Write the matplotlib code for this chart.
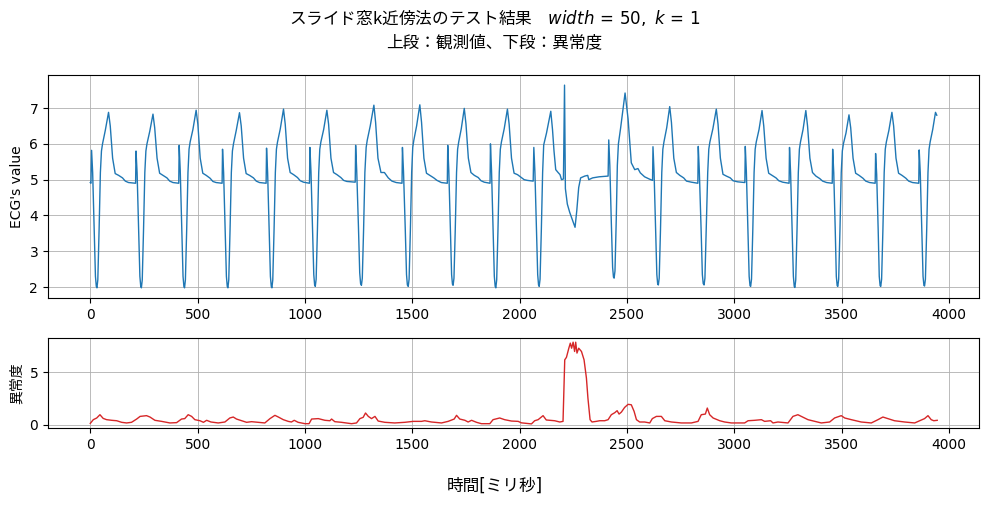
import matplotlib
matplotlib.use("Agg")
import matplotlib.pyplot as plt

plt.rcParams['font.family'] = ['DejaVu Sans', 'Noto Sans CJK JP']
plt.rcParams['axes.unicode_minus'] = False

ecg_time = [
    0, 3,
    6, 11, 18, 24, 28, 31, 35, 41, 47, 52, 57, 70, 85, 93, 104, 116, 132, 150, 163, 178, 211,
    213, 218, 225, 231, 235, 238, 242, 248, 254, 259, 264, 277, 292, 300, 311, 323, 339, 357, 370, 385, 412,
    414, 419, 426, 432, 436, 439, 443, 449, 455, 460, 465, 478, 493, 501, 512, 524, 540, 558, 571, 586, 614,
    616, 621, 628, 634, 638, 641, 645, 651, 657, 662, 667, 680, 695, 703, 714, 726, 742, 760, 773, 788, 819,
    821, 826, 833, 839, 843, 846, 850, 856, 862, 867, 872, 885, 900, 908, 919, 931, 947, 965, 978, 993, 1021,
    1023, 1028, 1035, 1041, 1045, 1048, 1052, 1058, 1064, 1069, 1074, 1087, 1102, 1110, 1121, 1133, 1149, 1167, 1180, 1195, 1234,
    1236, 1241, 1249, 1255, 1259, 1263, 1267, 1273, 1279, 1285, 1290, 1304, 1321, 1329, 1340, 1354, 1370, 1388, 1405, 1425, 1452,
    1454, 1459, 1467, 1473, 1477, 1481, 1485, 1491, 1497, 1502, 1507, 1520, 1535, 1543, 1554, 1566, 1582, 1600, 1615, 1635, 1663,
    1665, 1670, 1677, 1683, 1687, 1690, 1694, 1700, 1706, 1711, 1716, 1728, 1742, 1750, 1761, 1773, 1789, 1807, 1820, 1835, 1862,
    1864, 1869, 1876, 1882, 1886, 1889, 1893, 1899, 1905, 1910, 1915, 1928, 1943, 1951, 1962, 1974, 1990, 2008, 2021, 2036, 2063,
    2066, 2071, 2078, 2084, 2088, 2091, 2095, 2101, 2107, 2112, 2125, 2145, 2153, 2160, 2168, 2179, 2188, 2195, 2204,
    2209, 2213, 2222, 2233, 2246, 2258, 2266, 2275, 2284, 2303, 2317, 2322, 2340, 2370, 2412,
    2415, 2420, 2427, 2433, 2437, 2440, 2444, 2450, 2455, 2460, 2470, 2491, 2505, 2520, 2536, 2551, 2562, 2582, 2603, 2619,
    2621, 2626, 2633, 2639, 2643, 2646, 2650, 2656, 2662, 2667, 2672, 2685, 2699, 2707, 2718, 2730, 2746, 2764, 2777, 2800, 2830,
    2832, 2837, 2845, 2851, 2855, 2859, 2863, 2869, 2876, 2881, 2886, 2900, 2916, 2924, 2935, 2947, 2963, 2981, 2994, 3015, 3049,
    3051, 3056, 3063, 3069, 3073, 3076, 3080, 3086, 3092, 3097, 3102, 3115, 3129, 3137, 3148, 3160, 3176, 3194, 3207, 3225, 3255,
    3257, 3262, 3269, 3275, 3279, 3282, 3286, 3292, 3298, 3303, 3308, 3320, 3333, 3341, 3352, 3364, 3380, 3398, 3411, 3430, 3456,
    3458, 3463, 3470, 3475, 3479, 3482, 3486, 3492, 3498, 3503, 3508, 3520, 3534, 3542, 3553, 3565, 3581, 3599, 3612, 3630, 3656,
    3658, 3663, 3670, 3675, 3679, 3682, 3686, 3692, 3698, 3703, 3708, 3720, 3734, 3742, 3753, 3765, 3781, 3799, 3812, 3830, 3859,
    3861, 3866, 3873, 3879, 3883, 3886, 3890, 3896, 3902, 3907, 3912, 3924, 3937, 3943,
]
ecg_value = [
    4.92, 4.90,
    5.82, 5.20, 3.60, 2.30, 2.02, 1.98, 2.20, 3.60, 5.20, 5.80, 6.00, 6.38, 6.88, 6.50, 5.60, 5.17, 5.12, 5.05, 4.96, 4.92, 4.90,
    5.80, 5.20, 3.60, 2.30, 2.02, 1.98, 2.20, 3.60, 5.20, 5.80, 6.00, 6.35, 6.83, 6.45, 5.60, 5.18, 5.12, 5.05, 4.96, 4.92, 4.90,
    5.96, 5.25, 3.60, 2.30, 2.02, 1.98, 2.20, 3.60, 5.20, 5.85, 6.05, 6.40, 6.94, 6.55, 5.60, 5.18, 5.12, 5.04, 4.95, 4.92, 4.90,
    5.85, 5.20, 3.60, 2.30, 2.02, 1.98, 2.20, 3.60, 5.20, 5.80, 6.00, 6.38, 6.87, 6.50, 5.60, 5.17, 5.12, 5.05, 4.96, 4.92, 4.90,
    5.88, 5.20, 3.60, 2.30, 2.02, 1.98, 2.20, 3.60, 5.20, 5.85, 6.05, 6.42, 6.97, 6.55, 5.60, 5.20, 5.14, 5.06, 4.97, 4.93, 4.90,
    5.90, 5.22, 3.65, 2.35, 2.06, 2.02, 2.22, 3.60, 5.20, 5.85, 6.05, 6.40, 6.94, 6.55, 5.60, 5.20, 5.14, 5.06, 4.98, 4.95, 4.93,
    5.96, 5.25, 3.70, 2.40, 2.10, 2.05, 2.25, 3.60, 5.20, 5.90, 6.10, 6.50, 7.08, 6.60, 5.60, 5.20, 5.20, 5.05, 4.96, 4.92, 4.90,
    5.90, 5.22, 3.65, 2.35, 2.06, 2.02, 2.22, 3.60, 5.20, 5.90, 6.10, 6.50, 7.09, 6.60, 5.60, 5.18, 5.12, 5.05, 4.98, 4.92, 4.90,
    5.96, 5.25, 3.65, 2.35, 2.08, 2.05, 2.25, 3.60, 5.20, 5.85, 6.05, 6.42, 6.99, 6.55, 5.60, 5.20, 5.12, 5.06, 4.97, 4.93, 4.90,
    6.00, 5.25, 3.60, 2.30, 2.02, 1.98, 2.20, 3.60, 5.20, 5.85, 6.05, 6.42, 6.97, 6.55, 5.60, 5.18, 5.14, 5.06, 5.00, 4.98, 4.96,
    5.90, 5.22, 3.65, 2.35, 2.06, 2.02, 2.22, 3.60, 5.20, 5.97, 6.30, 6.91, 6.40, 5.80, 5.28, 5.20, 5.14, 5.00, 5.02,
    7.64, 4.75, 4.32, 4.09, 3.87, 3.67, 4.13, 4.78, 5.05, 5.10, 5.12, 5.00, 5.05, 5.08, 5.10,
    6.11, 5.40, 3.80, 2.55, 2.28, 2.25, 2.45, 3.90, 5.40, 6.00, 6.43, 7.42, 6.70, 5.47, 5.28, 5.31, 5.19, 5.08, 5.02, 4.98,
    5.92, 5.22, 3.65, 2.35, 2.08, 2.06, 2.25, 3.60, 5.20, 5.85, 6.05, 6.45, 7.04, 6.60, 5.60, 5.20, 5.12, 5.05, 4.96, 4.93, 4.90,
    5.93, 5.22, 3.65, 2.35, 2.10, 2.06, 2.25, 3.60, 5.20, 5.85, 6.05, 6.42, 6.97, 6.55, 5.60, 5.15, 5.10, 5.05, 4.97, 4.94, 4.92,
    5.93, 5.22, 3.60, 2.30, 2.04, 2.02, 2.22, 3.60, 5.20, 5.85, 6.05, 6.40, 6.93, 6.50, 5.60, 5.18, 5.12, 5.05, 4.97, 4.93, 4.90,
    5.90, 5.20, 3.60, 2.30, 2.02, 1.99, 2.20, 3.60, 5.20, 5.85, 6.05, 6.40, 6.93, 6.50, 5.60, 5.20, 5.10, 5.03, 4.96, 4.92, 4.90,
    5.85, 5.20, 3.60, 2.30, 2.04, 2.02, 2.22, 3.60, 5.20, 5.80, 6.00, 6.30, 6.81, 6.45, 5.60, 5.18, 5.12, 5.04, 4.96, 4.92, 4.90,
    5.73, 5.15, 3.60, 2.30, 2.04, 2.02, 2.22, 3.60, 5.20, 5.85, 6.05, 6.38, 6.88, 6.50, 5.60, 5.18, 5.12, 5.04, 4.96, 4.92, 4.90,
    5.83, 5.20, 3.60, 2.30, 2.05, 2.03, 2.22, 3.60, 5.20, 5.85, 6.05, 6.40, 6.88, 6.80,
]

# ---- anomaly score (time [ms], score) ----
score_time = [
    0, 14, 30, 45, 60, 76, 100, 123, 146, 169, 192, 216, 232, 262, 278, 301, 332, 371, 402, 425,
    440, 456, 472, 487, 511, 527, 542, 562, 596, 627, 650, 666, 681, 705, 728, 751, 782, 813, 837, 860,
    876, 899, 922, 937, 950, 968, 1000, 1019, 1031, 1062, 1093, 1116, 1124, 1139, 1170, 1217, 1240, 1256, 1271, 1282,
    1295, 1310, 1326, 1341, 1372, 1418, 1465, 1504, 1543, 1558, 1589, 1636, 1667, 1695, 1706, 1721, 1745, 1760, 1776, 1799,
    1822, 1861, 1876, 1907, 1930, 1962, 1993, 2008, 2055, 2070, 2086, 2109, 2124, 2140, 2163, 2187, 2202, 2210, 2218, 2229,
    2236, 2242, 2249, 2256, 2261, 2267, 2275, 2288, 2300, 2311, 2318, 2328, 2337, 2357, 2373, 2396, 2412, 2427, 2443, 2454,
    2463, 2474, 2489, 2505, 2520, 2533, 2544, 2559, 2582, 2606, 2618, 2637, 2660, 2676, 2707, 2753, 2800, 2831, 2846, 2865,
    2874, 2885, 2901, 2932, 2955, 2986, 3048, 3064, 3095, 3126, 3141, 3169, 3180, 3203, 3250, 3273, 3296, 3312, 3343, 3374,
    3405, 3444, 3467, 3498, 3514, 3545, 3591, 3638, 3669, 3692, 3715, 3746, 3793, 3840, 3863, 3886, 3902, 3917, 3929, 3945,
]
score_value = [
    0.15, 0.50, 0.66, 0.97, 0.62, 0.50, 0.44, 0.40, 0.25, 0.19, 0.25, 0.56, 0.81, 0.88, 0.75, 0.44, 0.34, 0.19, 0.22, 0.56,
    0.60, 0.97, 0.81, 0.50, 0.40, 0.25, 0.44, 0.28, 0.19, 0.28, 0.66, 0.75, 0.56, 0.40, 0.25, 0.31, 0.25, 0.19, 0.60, 0.91,
    0.75, 0.50, 0.34, 0.28, 0.44, 0.25, 0.12, 0.12, 0.56, 0.60, 0.44, 0.40, 0.56, 0.31, 0.25, 0.12, 0.19, 0.60, 0.72, 1.13,
    0.81, 0.60, 0.81, 0.37, 0.25, 0.19, 0.25, 0.34, 0.34, 0.40, 0.28, 0.19, 0.34, 0.56, 0.91, 0.56, 0.44, 0.28, 0.44, 0.25,
    0.12, 0.12, 0.50, 0.66, 0.50, 0.37, 0.34, 0.20, 0.10, 0.40, 0.50, 0.88, 0.47, 0.44, 0.40, 0.28, 0.34, 6.16, 6.40, 7.26,
    7.74, 7.26, 7.83, 6.95, 7.83, 6.80, 7.26, 6.95, 6.16, 4.43, 2.54, 0.50, 0.28, 0.34, 0.40, 0.40, 0.50, 0.97, 1.16, 1.35,
    1.03, 1.22, 1.66, 1.95, 1.91, 1.29, 0.50, 0.28, 0.28, 0.19, 0.60, 0.81, 0.81, 0.40, 0.28, 0.19, 0.19, 0.34, 0.97, 1.03,
    1.60, 0.97, 0.66, 0.40, 0.28, 0.19, 0.19, 0.40, 0.44, 0.50, 0.34, 0.40, 0.19, 0.28, 0.19, 0.81, 0.97, 0.81, 0.50, 0.34,
    0.19, 0.28, 0.66, 0.88, 0.66, 0.50, 0.28, 0.19, 0.50, 0.75, 0.60, 0.40, 0.28, 0.19, 0.40, 0.60, 0.88, 0.50, 0.40, 0.44,
]

x_ticks = [0, 500, 1000, 1500, 2000, 2500, 3000, 3500, 4000]
ecg_yticks = [2, 3, 4, 5, 6, 7]
score_yticks = [0, 5]

fig = plt.figure(figsize=(9.89, 5.05), dpi=100)
ax1 = fig.add_axes([0.0485, 0.410, 0.9415, 0.4415])
ax2 = fig.add_axes([0.0485, 0.1525, 0.9415, 0.178])

ax1.plot(ecg_time, ecg_value, color='#1f77b4', linewidth=1.0)
ax1.set_ylabel("ECG's value", fontsize=10)
ax1.set_xticks(x_ticks)
ax1.set_yticks(ecg_yticks)
ax1.grid(True, color='#b0b0b0', linewidth=0.6)
ax1.tick_params(labelsize=10)

ax2.plot(score_time, score_value, color='#d62728', linewidth=1.0)
ax2.set_ylabel("異常度", fontsize=10)
ax2.set_xticks(x_ticks)
ax2.set_yticks(score_yticks)
ax2.set_xlim(ax1.get_xlim())
ax2.grid(True, color='#b0b0b0', linewidth=0.6)
ax2.tick_params(labelsize=10)

fig.suptitle("スライド窓k近傍法のテスト結果$\\quad width\\,=\\,50,\\ k\\,=\\,1$\n上段：観測値、下段：異常度",
             fontsize=12, y=0.985, linespacing=1.5,
             family=['Noto Sans CJK JP', 'DejaVu Sans'])
fig.supxlabel("時間[ミリ秒]", fontsize=12, y=0.02)

fig.savefig("out.png", dpi=100)
